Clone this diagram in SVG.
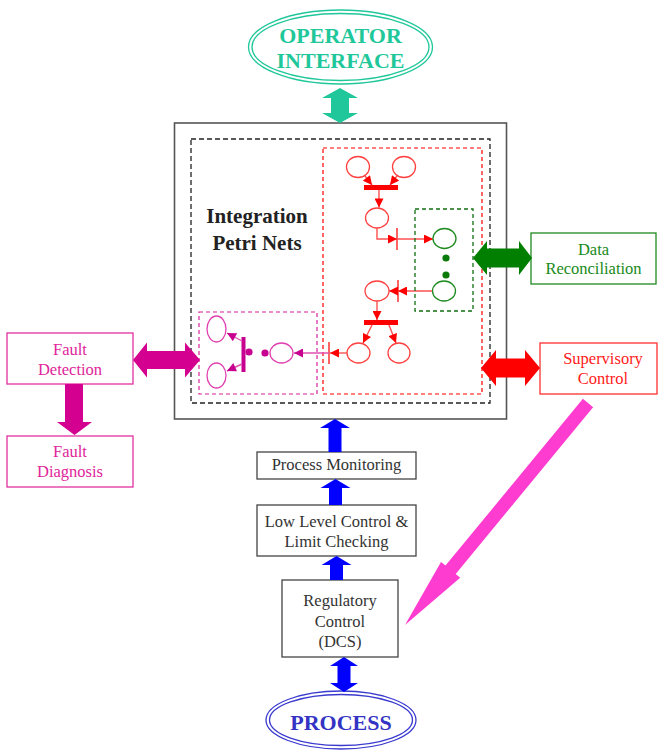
<svg xmlns="http://www.w3.org/2000/svg" width="658" height="751" viewBox="0 0 658 751">
  <style>
    text { font-family: "Liberation Serif", "Times New Roman", serif; text-anchor: middle; }
    .lbl { font-size: 16.5px; fill: #333; }
    .box { fill: #fff; stroke: #444; stroke-width: 1.3; }
    .big { font-size: 22px; font-weight: bold; }
    .dash-k { fill: none; stroke: #222; stroke-width: 1.3; stroke-dasharray: 5 3; }
    .dash-r { fill: none; stroke: #f00; stroke-width: 1.2; stroke-dasharray: 4 3; }
    .dash-g { fill: none; stroke: #107010; stroke-width: 1.3; stroke-dasharray: 4 3; }
    .dash-m { fill: none; stroke: #d8209a; stroke-width: 1.2; stroke-dasharray: 4 3; }
    .pl-r { fill: #fff; stroke: #ff4040; stroke-width: 1.3; }
    .pl-g { fill: #fff; stroke: #1f8a1f; stroke-width: 1.3; }
    .pl-m { fill: #fff; stroke: #e040b0; stroke-width: 1.3; }
    .arc-r { fill: none; stroke: #ff5050; stroke-width: 1.4; }
    .arc-m { fill: none; stroke: #e050b0; stroke-width: 1.4; }
  </style>
  <defs>
    <marker id="ah-r" viewBox="0 0 10 10" refX="10" refY="5" markerWidth="10" markerHeight="9" markerUnits="userSpaceOnUse" orient="auto">
      <path d="M0,0 L10,5 L0,10 z" fill="#f00"/>
    </marker>
    <marker id="ah-m" viewBox="0 0 10 10" refX="10" refY="5" markerWidth="10" markerHeight="9" markerUnits="userSpaceOnUse" orient="auto">
      <path d="M0,0 L10,5 L0,10 z" fill="#c8008f"/>
    </marker>
  </defs>

  <rect width="658" height="751" fill="#fff"/>

  <!-- operator interface -->
  <g id="operator-interface">
    <ellipse cx="340.5" cy="47" rx="92" ry="37" fill="none" stroke="#1fc79a" stroke-width="1.3"/>
    <ellipse cx="340.5" cy="47" rx="88.5" ry="33.5" fill="none" stroke="#1fc79a" stroke-width="1.3"/>
    <text class="big" x="340.5" y="43" fill="#1fc79a">OPERATOR</text>
    <text class="big" x="340.5" y="68" fill="#1fc79a">INTERFACE</text>
  </g>

  <!-- integration block -->
  <g id="integration-petri-nets">
    <rect x="174.5" y="123" width="332" height="296" fill="#fff" stroke="#555" stroke-width="1.6"/>
    <rect class="dash-k" x="191" y="139" width="299" height="264"/>
    <text x="257" y="223" font-size="21" font-weight="bold" fill="#222">Integration</text>
    <text x="257" y="250" font-size="21" font-weight="bold" fill="#222">Petri Nets</text>

    <!-- supervisory net -->
    <g id="supervisory-net">
      <rect class="dash-r" x="323" y="148" width="159" height="246"/>
      <ellipse class="pl-r" cx="358" cy="167" rx="11.5" ry="10.5"/>
      <ellipse class="pl-r" cx="404" cy="167" rx="11.5" ry="10.5"/>
      <rect x="364" y="185" width="34" height="5" fill="#f00"/>
      <line class="arc-r" x1="365" y1="176" x2="372" y2="185" marker-end="url(#ah-r)"/>
      <line class="arc-r" x1="397" y1="176" x2="390" y2="185" marker-end="url(#ah-r)"/>
      <line class="arc-r" x1="379" y1="190" x2="379" y2="207.5" marker-end="url(#ah-r)"/>
      <ellipse class="pl-r" cx="377" cy="218" rx="11.5" ry="10"/>
      <path class="arc-r" d="M377,228 V239 H397" marker-end="url(#ah-r)"/>
      <line x1="397" y1="228" x2="397" y2="250" stroke="#ff3030" stroke-width="1.5"/>
      <line class="arc-r" x1="397" y1="239" x2="433" y2="239" marker-end="url(#ah-r)"/>
      <line class="arc-r" x1="433" y1="291" x2="398" y2="291" marker-end="url(#ah-r)"/>
      <line x1="398" y1="280" x2="398" y2="302" stroke="#ff3030" stroke-width="1.5"/>
      <line class="arc-r" x1="398" y1="291" x2="389" y2="291" marker-end="url(#ah-r)"/>
      <ellipse class="pl-r" cx="377" cy="291" rx="12" ry="10"/>
      <line class="arc-r" x1="377" y1="301" x2="377" y2="320" marker-end="url(#ah-r)"/>
      <rect x="364" y="320" width="34" height="5" fill="#f00"/>
      <line class="arc-r" x1="372" y1="325" x2="363" y2="343" marker-end="url(#ah-r)"/>
      <line class="arc-r" x1="389" y1="325" x2="396" y2="343" marker-end="url(#ah-r)"/>
      <ellipse class="pl-r" cx="358.5" cy="353" rx="11.5" ry="10"/>
      <ellipse class="pl-r" cx="399" cy="353" rx="11" ry="10"/>
      <line class="arc-r" x1="347" y1="353" x2="330" y2="353" marker-end="url(#ah-r)"/>
      <line x1="329" y1="342" x2="329" y2="364" stroke="#ff3030" stroke-width="1.5"/>
    </g>

    <!-- data reconciliation net -->
    <g id="reconciliation-net">
      <rect class="dash-g" x="415" y="209" width="58" height="102"/>
      <ellipse class="pl-g" cx="444.5" cy="238.5" rx="11.5" ry="10"/>
      <circle cx="446" cy="258" r="3.6" fill="#0a7a0a"/>
      <circle cx="446" cy="275" r="3.6" fill="#0a7a0a"/>
      <ellipse class="pl-g" cx="444" cy="291" rx="11.5" ry="10"/>
    </g>

    <!-- fault detection net -->
    <g id="fault-net">
      <rect class="dash-m" x="199" y="312" width="118" height="82"/>
      <line class="arc-m" x1="329" y1="353" x2="294" y2="353" marker-end="url(#ah-m)"/>
      <ellipse class="pl-m" cx="281.5" cy="353" rx="11.5" ry="10"/>
      <circle cx="265" cy="353" r="3.6" fill="#c8008f"/>
      <circle cx="249" cy="352" r="3.6" fill="#c8008f"/>
      <rect x="241.5" y="337" width="4" height="35" fill="#c8008f"/>
      <line class="arc-m" x1="242" y1="341" x2="227" y2="333" marker-end="url(#ah-m)"/>
      <line class="arc-m" x1="242" y1="364" x2="227" y2="371" marker-end="url(#ah-m)"/>
      <ellipse class="pl-m" cx="216.5" cy="329" rx="9.5" ry="13"/>
      <ellipse class="pl-m" cx="216.5" cy="375.5" rx="9.5" ry="12.5"/>
    </g>
  </g>

  <!-- side blocks -->
  <g id="data-reconciliation">
    <rect x="531" y="233" width="125" height="51" fill="#fff" stroke="#1f8a1f" stroke-width="1.3"/>
    <text class="lbl" x="593.5" y="255" fill="#1a8a1a" style="fill:#1a8a1a">Data</text>
    <text class="lbl" x="593.5" y="274" style="fill:#1a8a1a">Reconciliation</text>
  </g>
  <g id="supervisory-control">
    <rect x="540" y="343" width="117" height="51" fill="#fff" stroke="#ff3030" stroke-width="1.3"/>
    <text class="lbl" x="603" y="364" style="fill:#ff2020">Supervisory</text>
    <text class="lbl" x="603" y="384" style="fill:#ff2020">Control</text>
  </g>
  <g id="fault-detection">
    <rect x="7" y="333" width="126" height="51" fill="#fff" stroke="#e0309f" stroke-width="1.3"/>
    <text class="lbl" x="70" y="355" style="fill:#e0249a">Fault</text>
    <text class="lbl" x="70" y="375" style="fill:#e0249a">Detection</text>
  </g>
  <g id="fault-diagnosis">
    <rect x="7" y="436" width="126" height="51" fill="#fff" stroke="#e0309f" stroke-width="1.3"/>
    <text class="lbl" x="70" y="457" style="fill:#e0249a">Fault</text>
    <text class="lbl" x="70" y="477" style="fill:#e0249a">Diagnosis</text>
  </g>

  <!-- control hierarchy -->
  <g id="process-monitoring">
    <rect class="box" x="257" y="452" width="159" height="27"/>
    <text class="lbl" x="336.5" y="470">Process Monitoring</text>
  </g>
  <g id="low-level-control">
    <rect class="box" x="257" y="505" width="159" height="51"/>
    <text class="lbl" x="336.5" y="527">Low Level Control &amp;</text>
    <text class="lbl" x="336.5" y="547">Limit Checking</text>
  </g>
  <g id="regulatory-control">
    <rect class="box" x="282" y="580" width="116" height="77"/>
    <text class="lbl" x="340" y="606">Regulatory</text>
    <text class="lbl" x="340" y="627">Control</text>
    <text class="lbl" x="340" y="647">(DCS)</text>
  </g>
  <g id="process">
    <ellipse cx="341" cy="720" rx="75" ry="29" fill="none" stroke="#3a3acf" stroke-width="1.3"/>
    <ellipse cx="341" cy="720" rx="71.5" ry="25.5" fill="none" stroke="#3a3acf" stroke-width="1.3"/>
    <text class="big" x="341" y="730" fill="#3434c4">PROCESS</text>
  </g>

  <!-- block arrows -->
  <g id="connectors">
    <polygon fill="#1fc79a" points="340,88 358,98 349,98 349,113 358,113 340,123 322,113 331,113 331,98 322,98"/>
    <polygon fill="#007f00" points="473,258 487,241 487,248.5 519,248.5 519,241 532,258 519,275 519,267.5 487,267.5 487,275"/>
    <polygon fill="#ff0000" points="481,368 496,350 496,358.5 525,358.5 525,350 540,368 525,386 525,377.5 496,377.5 496,386"/>
    <polygon fill="#d4008f" points="133,360 147,342.5 147,351 185,351 185,342.5 200,360 185,377.5 185,369 147,369 147,377.5"/>
    <polygon fill="#d4008f" points="65,384 83,384 83,422 92,422 74.5,435 57,422 65,422"/>
    <polygon fill="#0000ff" points="335,419 350,428 341.5,428 341.5,452 328.5,452 328.5,428 320,428"/>
    <polygon fill="#0000ff" points="335.5,479 350.5,488 342,488 342,505 329,505 329,488 320.5,488"/>
    <polygon fill="#0000ff" points="336.5,556 351.5,565 343,565 343,580 330,580 330,565 321.5,565"/>
    <polygon fill="#0000ff" points="344,657 358,666 350.5,666 350.5,683 358,683 344,692 330,683 337.5,683 337.5,666 330,666"/>
    <polygon fill="#fe3cd0" points="582.9,398.8 593.1,407.2 455.7,574 460.2,577.8 405,625 441,561.9 445.5,565.6"/>
  </g>
</svg>
